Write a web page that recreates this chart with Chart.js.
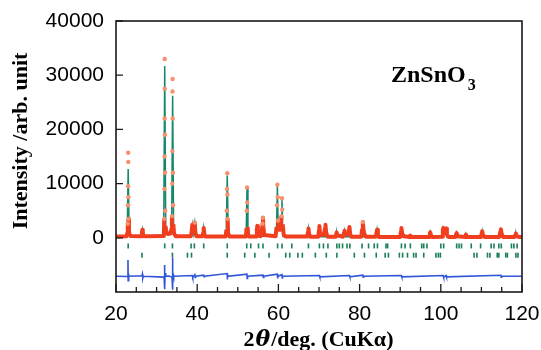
<!DOCTYPE html>
<html lang="en">
<head>
    <meta charset="UTF-8">
    <title>ZnSnO3 Rietveld</title>
    <script src="https://cdn.jsdelivr.net/npm/chart.js"></script>
    <style>
        body { margin: 0; background: #fff; }
    </style>
</head>
<body>
    <canvas id="myChart" width="541" height="350"></canvas>

    <script>
        // observed pattern (dots / red band)
        const obsX = [20.0, 22.6, 22.8, 22.9, 22.95, 22.98, 23.0, 23.03, 23.06, 23.1, 23.2, 23.5,
            26.2, 26.4, 26.5, 26.6, 26.8,
            31.6, 31.8, 31.88, 31.93, 31.96, 31.98, 32.0, 32.02, 32.05, 32.08, 32.12, 32.2, 32.4, 32.8, 33.4,
            33.65, 33.78, 33.84, 33.88, 33.92, 33.95, 33.98, 34.02, 34.06, 34.12, 34.3, 34.7,
            38.4, 38.6, 38.8, 38.95, 39.1, 39.4, 39.55, 39.8, 41.3, 41.5, 41.6, 41.75, 42.0,
            47.0, 47.2, 47.3, 47.35, 47.4, 47.45, 47.5, 47.6, 47.9,
            52.0, 52.15, 52.22, 52.27, 52.33, 52.4, 52.6, 54.5, 54.7, 54.8, 54.95, 55.6, 55.9, 56.1, 56.2, 56.3, 56.5,
            59.3, 59.55, 59.68, 59.75, 59.82, 59.9, 60.1, 60.5, 60.75, 60.88, 60.95, 61.05, 61.3, 61.7,
            67.1, 67.3, 67.4, 67.55, 67.8, 69.8, 70.0, 70.1, 70.25, 70.5, 71.2, 71.5, 71.6, 71.75, 72.1,
            74.1, 74.35, 74.5, 75.9, 76.2, 76.3, 76.5, 77.3, 77.5, 77.65, 77.9, 80.4, 80.6, 80.8, 80.95, 81.2, 81.6,
            84.0, 84.2, 84.3, 84.5, 84.8, 90.0, 90.2, 90.3, 90.5, 90.9, 92.3, 92.5, 92.7,
            97.1, 97.3, 97.4, 97.6, 97.9, 100.3, 100.5, 100.6, 100.8, 101.1, 101.3, 101.5, 101.9,
            103.6, 103.8, 103.9, 104.1, 106.0, 106.2, 106.4, 109.9, 110.1, 110.2, 110.4, 110.8,
            114.4, 114.65, 114.8, 115.0, 115.4, 118.2, 118.4, 118.5, 118.7, 119.2, 120.0];
        const obsY = [250, 300, 900, 2600, 6000, 9500, 15700, 14000, 7500, 3500, 1000, 350,
            300, 1000, 1500, 1000, 300,
            350, 1200, 3500, 9000, 15000, 22000, 33000, 27500, 19000, 12000, 5000, 2200, 1000, 700, 800,
            1600, 4000, 10000, 16000, 27000, 29300, 22000, 12000, 6000, 2500, 800, 300,
            300, 900, 2400, 1200, 1500, 2800, 1000, 300, 300, 1000, 1800, 700, 250,
            250, 1500, 5000, 9000, 11900, 8000, 3500, 900, 250,
            250, 1800, 5000, 9300, 6500, 2000, 250, 250, 1500, 2200, 900, 300, 1000, 2600, 3700, 2000, 500,
            300, 2000, 6000, 9800, 7500, 3200, 1500, 1500, 4000, 7300, 5200, 2500, 600, 250,
            250, 1100, 1700, 800, 200, 200, 1400, 2200, 900, 500, 600, 1800, 2400, 1000, 200,
            200, 1000, 500, 200, 1000, 1300, 600, 800, 2000, 800, 200, 200, 1500, 2900, 1500, 600, 200,
            200, 1100, 1500, 600, 150, 150, 1200, 1800, 800, 300, 150, 400, 150,
            150, 800, 1000, 400, 150, 200, 1400, 1800, 1000, 1200, 1700, 600, 150,
            150, 700, 900, 300, 150, 600, 150, 150, 900, 1200, 500, 150,
            150, 1100, 1600, 700, 150, 150, 600, 800, 300, 150, 150];

        // calculated profile (green line)
        const calcX = [20.0, 22.75, 23.0, 23.25, 26.3, 26.5, 26.7, 31.75, 32.0, 32.25, 33.7, 33.95, 34.2, 34.6,
            38.55, 38.8, 39.05, 39.4, 39.65, 41.4, 41.6, 41.8, 47.15, 47.4, 47.65, 52.05, 52.27, 52.5,
            54.6, 54.8, 55.0, 56.0, 56.2, 56.4, 59.5, 59.75, 59.95, 60.65, 60.88, 61.1,
            67.2, 67.4, 67.6, 69.9, 70.1, 70.3, 71.4, 71.6, 71.8, 74.2, 74.4, 74.6, 76.1, 76.3, 76.5,
            77.3, 77.5, 77.7, 80.6, 80.8, 81.0, 84.1, 84.3, 84.5, 90.1, 90.3, 90.5, 92.3, 92.5, 92.7,
            97.2, 97.4, 97.6, 100.4, 100.6, 100.9, 101.3, 101.5, 103.7, 103.9, 104.1, 106.0, 106.2, 106.4,
            110.0, 110.2, 110.4, 114.6, 114.8, 115.0, 118.3, 118.5, 118.7, 120.0];
        const calcY = [200, 300, 12700, 400, 300, 1400, 300, 500, 31700, 900, 900, 26200, 700, 300,
            300, 2300, 800, 2700, 300, 250, 1700, 250, 250, 11500, 250, 250, 9000, 250,
            250, 2100, 250, 300, 3600, 300, 300, 9500, 1500, 1500, 7100, 300,
            250, 1600, 200, 200, 2100, 200, 200, 2300, 200, 200, 900, 200, 200, 1200, 200,
            200, 1900, 200, 200, 2800, 200, 200, 1400, 150, 150, 1700, 150, 150, 400, 150,
            150, 950, 150, 150, 1700, 900, 1600, 150, 150, 850, 150, 150, 550, 150,
            150, 1150, 150, 150, 1550, 150, 150, 750, 150, 150];

        // difference curve (blue), offset below the pattern
        const diffX = [20.0, 22.85, 22.95, 23.0, 23.05, 23.1, 23.2, 26.4, 26.5, 26.6, 26.7,
            31.85, 31.93, 31.97, 32.0, 32.04, 32.1, 32.18, 32.3, 33.0, 33.8, 33.88, 33.93, 33.98, 34.03, 34.1, 34.2,
            38.8, 38.9, 39.4, 39.5, 39.6, 41.6, 41.7, 41.8, 47.35, 47.42, 47.5, 52.25, 52.32, 52.4,
            56.2, 56.3, 56.4, 59.72, 59.8, 59.88, 60.88, 60.95, 61.0, 70.1, 70.2, 77.5, 77.6,
            80.8, 80.9, 81.0, 90.3, 90.4, 100.6, 100.7, 101.3, 101.4, 114.8, 114.9, 115.0, 120.0];
        const diffY = [-7100, -7150, -4100, -7900, -6600, -7300, -7100, -7000, -6700, -7400, -7100,
            -7250, -5000, -9500, -5800, -9200, -6500, -7300, -7100, -7050, -7250, -3700, -9600, -6200, -8600, -6800, -7100,
            -6950, -7300, -6800, -7300, -7100, -6900, -7200, -7100, -6600, -7700, -7100, -6700, -7500, -7100,
            -6900, -7300, -7100, -6700, -7500, -7100, -6800, -7400, -7100, -6950, -7200, -6950, -7200,
            -6900, -7250, -7100, -6950, -7200, -6950, -7250, -6950, -7200, -6900, -7250, -7100, -7100];

        // Bragg reflection positions, two rows
        const braggA = [23.0, 32.0, 33.9, 38.5, 39.3, 41.6, 47.4, 52.2, 53.2, 55.1, 56.2, 59.8, 60.9, 63.3,
            67.4, 70.1, 71.1, 72.2, 74.4, 75.0, 75.8, 76.9, 77.6, 80.6, 82.2, 83.6, 84.4, 86.5, 86.9,
            90.3, 91.2, 92.5, 95.3, 95.8, 96.6, 100.0, 100.7, 103.9, 104.5, 105.1, 107.5, 109.8,
            112.4, 113.1, 114.3, 114.9, 117.4, 118.0, 118.8];
        const braggB = [26.4, 33.9, 37.6, 38.6, 47.4, 51.7, 54.2, 57.7, 61.8, 62.8, 64.8, 65.9, 69.1, 71.8,
            74.4, 78.7, 81.2, 84.1, 86.3, 87.1, 89.8, 90.6, 91.8, 93.3, 93.9, 95.8, 98.8, 99.4, 99.9,
            108.2, 108.9, 111.5, 112.1, 113.9, 114.3, 116.0, 116.4, 118.5, 119.0];

        const xTickLabels = [20, 40, 60, 80, 100, 120];
        const yTickLabels = [0, 10000, 20000, 30000, 40000];

        const pts = (xs, ys) => xs.map((x, i) => ({ x: x, y: ys[i] }));
        const braggRowA = -1500;
        const braggRowB = -3200;

        const framePlugin = {
            id: 'framePlugin',
            afterDraw: (chart) => {
                const { ctx, chartArea: a, scales: { x, y } } = chart;
                ctx.save();
                ctx.strokeStyle = '#1a1a1a';
                ctx.lineWidth = 1.6;
                ctx.strokeRect(a.left, a.top, a.right - a.left, a.bottom - a.top);

                // inward ticks
                ctx.lineWidth = 1.3;
                ctx.beginPath();
                for (let v = 20; v <= 120; v += 5) {
                    const px = x.getPixelForValue(v);
                    const len = xTickLabels.includes(v) ? 8 : 5;
                    ctx.moveTo(px, a.bottom);
                    ctx.lineTo(px, a.bottom - len);
                }
                yTickLabels.forEach(v => {
                    const py = y.getPixelForValue(v);
                    ctx.moveTo(a.left, py);
                    ctx.lineTo(a.left + 7, py);
                });
                ctx.stroke();

                // sample label
                ctx.fillStyle = '#000';
                ctx.textBaseline = 'alphabetic';
                ctx.textAlign = 'left';
                ctx.font = 'bold 24px "Liberation Serif", "Times New Roman", serif';
                ctx.fillText('ZnSnO', 391, 82);
                const w = ctx.measureText('ZnSnO').width;
                ctx.font = 'bold 16px "Liberation Serif", "Times New Roman", serif';
                ctx.fillText('3', 391 + w + 2, 90);

                // x title with italic theta
                const serif = '"Liberation Serif", "Times New Roman", serif';
                const parts = [
                    ['2', 'bold 22px ' + serif],
                    ['\u03B8', 'italic bold 22px "DejaVu Serif", ' + serif],
                    ['/deg. (CuK\u03B1)', 'bold 22px ' + serif]
                ];
                let total = 0;
                parts.forEach(p => { ctx.font = p[1]; total += ctx.measureText(p[0]).width + 1; });
                let cx = (a.left + a.right) / 2 - total / 2;
                parts.forEach(p => {
                    ctx.font = p[1];
                    ctx.fillText(p[0], cx, 346);
                    cx += ctx.measureText(p[0]).width + 1;
                });

                // y title
                ctx.translate(27, 141);
                ctx.rotate(-Math.PI / 2);
                ctx.textAlign = 'center';
                ctx.font = 'bold 22px ' + serif;
                ctx.fillText('Intensity /arb. unit', 0, 0);
                ctx.restore();
            }
        };

        const tickFont = { family: '"Liberation Sans", Arial, sans-serif', size: 21 };

        const config = {
            type: 'scatter',
            data: {
                datasets: [
                    {
                        label: 'Observed',
                        data: pts(obsX, obsY),
                        showLine: true,
                        borderColor: '#f03e1e',
                        borderWidth: 4,
                        borderJoinStyle: 'round',
                        segment: {
                            borderColor: c => (c.p0.parsed.y > 4000 || c.p1.parsed.y > 4000) ? 'rgba(0,0,0,0)' : '#f03e1e'
                        },
                        pointRadius: c => (c.raw && c.raw.y > 2500) ? 2.2 : 0,
                        pointBackgroundColor: '#f7906c',
                        pointBorderWidth: 0,
                        order: 0
                    },
                    {
                        label: 'Calculated',
                        data: pts(calcX, calcY),
                        showLine: true,
                        borderColor: '#15876a',
                        borderWidth: 1.5,
                        pointRadius: 0,
                        order: 1
                    },
                    {
                        label: 'Difference',
                        data: pts(diffX, diffY),
                        showLine: true,
                        borderColor: '#2f55d8',
                        borderWidth: 1.6,
                        pointRadius: 0,
                        order: 2
                    },
                    {
                        label: 'Bragg A',
                        data: braggA.map(v => ({ x: v, y: braggRowA })),
                        pointStyle: 'line',
                        rotation: 90,
                        radius: 2.5,
                        borderColor: '#1b7f55',
                        borderWidth: 1.6,
                        order: 3
                    },
                    {
                        label: 'Bragg B',
                        data: braggB.map(v => ({ x: v, y: braggRowB })),
                        pointStyle: 'line',
                        rotation: 90,
                        radius: 2.5,
                        borderColor: '#1b7f55',
                        borderWidth: 1.6,
                        order: 4
                    }
                ]
            },
            options: {
                responsive: false,
                animation: false,
                layout: { padding: { top: 21, right: 19, left: 0, bottom: 0 } },
                plugins: {
                    legend: { display: false },
                    tooltip: { enabled: false }
                },
                scales: {
                    x: {
                        type: 'linear',
                        min: 20,
                        max: 120,
                        afterFit: s => { s.height = 58; s.paddingLeft = 0; s.paddingRight = 0; },
                        border: { display: false },
                        grid: { drawOnChartArea: false, drawTicks: false },
                        ticks: {
                            stepSize: 5,
                            autoSkip: false,
                            maxRotation: 0,
                            padding: 10,
                            color: '#000',
                            font: tickFont,
                            callback: v => xTickLabels.includes(v) ? String(v) : ''
                        }
                    },
                    y: {
                        min: -10000,
                        max: 40000,
                        afterFit: s => { s.width = 116; s.paddingTop = 0; s.paddingBottom = 0; },
                        border: { display: false },
                        grid: { drawOnChartArea: false, drawTicks: false },
                        ticks: {
                            stepSize: 10000,
                            padding: 12,
                            color: '#000',
                            font: tickFont,
                            callback: v => yTickLabels.includes(v) ? String(v) : ''
                        }
                    }
                }
            },
            plugins: [framePlugin]
        };

        new Chart(document.getElementById('myChart').getContext('2d'), config);
    </script>
</body>
</html>
